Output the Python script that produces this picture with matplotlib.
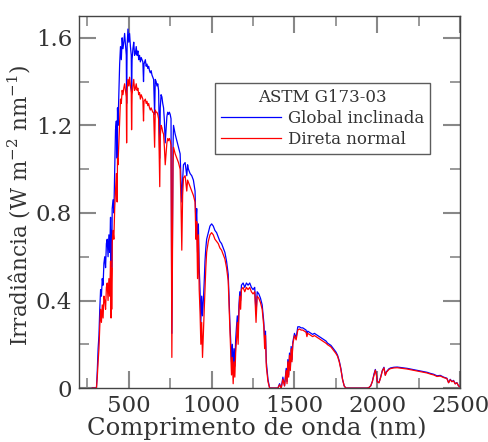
import matplotlib
matplotlib.use("Agg")
import matplotlib.pyplot as plt
from matplotlib.ticker import MultipleLocator, FuncFormatter

# wavelength grid (nm)
wavelength = [
    280, 300, 305, 310, 315, 320, 325, 330, 335, 340,
    345, 350, 355, 360, 365, 370, 375, 380, 385, 390,
    393, 396, 397, 400, 405, 410, 415, 420, 425, 430,
    432, 435, 440, 445, 450, 455, 460, 465, 470, 475,
    480, 485, 487, 490, 495, 500, 505, 510, 515, 517,
    520, 525, 530, 535, 540, 545, 550, 555, 560, 565,
    570, 575, 580, 585, 589, 592, 600, 605, 610, 615,
    620, 625, 630, 635, 640, 645, 650, 656, 660, 665,
    670, 675, 680, 687, 690, 695, 700, 705, 710, 715,
    720, 725, 730, 735, 740, 745, 750, 755, 760, 763,
    767, 770, 780, 790, 800, 810, 815, 820, 825, 830,
    840, 850, 855, 860, 870, 880, 890, 900, 905, 910,
    915, 920, 925, 930, 935, 940, 945, 950, 955, 960,
    965, 970, 980, 990, 1000, 1010, 1020, 1030, 1040, 1050,
    1060, 1070, 1080, 1090, 1100, 1105, 1110, 1115, 1120, 1125,
    1130, 1135, 1140, 1145, 1150, 1155, 1160, 1165, 1170, 1175,
    1180, 1190, 1200, 1210, 1220, 1230, 1240, 1250, 1260, 1268,
    1275, 1285, 1295, 1305, 1315, 1320, 1325, 1330, 1340, 1350,
    1400, 1410, 1420, 1430, 1440, 1450, 1455, 1460, 1465, 1470,
    1475, 1480, 1485, 1490, 1500, 1510, 1520, 1530, 1540, 1550,
    1560, 1570, 1575, 1580, 1590, 1600, 1610, 1620, 1630, 1640,
    1650, 1660, 1670, 1680, 1690, 1700, 1710, 1720, 1730, 1740,
    1750, 1760, 1770, 1780, 1790, 1800, 1810, 1940, 1950, 1960,
    1970, 1980, 1988, 1995, 2000, 2010, 2020, 2030, 2040, 2048,
    2055, 2070, 2080, 2100, 2120, 2140, 2160, 2180, 2200, 2220,
    2240, 2260, 2280, 2300, 2320, 2340, 2360, 2380, 2400, 2420,
    2430, 2440, 2450, 2460, 2470, 2480, 2490, 2500,
]

# global tilt irradiance (W m-2 nm-1)
global_tilt = [
    0, 0, 0, 0.08, 0.18, 0.24, 0.36, 0.45, 0.42, 0.50,
    0.47, 0.57, 0.60, 0.55, 0.66, 0.68, 0.60, 0.70, 0.62, 0.78,
    0.50, 0.72, 0.55, 0.82, 0.86, 0.80, 0.98, 1.18, 1.22, 1.05,
    1.28, 1.20, 1.35, 1.48, 1.56, 1.50, 1.60, 1.55, 1.58, 1.62,
    1.57, 1.52, 1.30, 1.56, 1.64, 1.58, 1.62, 1.56, 1.52, 1.35,
    1.50, 1.55, 1.58, 1.52, 1.53, 1.56, 1.52, 1.54, 1.50, 1.52,
    1.49, 1.51, 1.50, 1.49, 1.40, 1.48, 1.50, 1.47, 1.48, 1.46,
    1.47, 1.45, 1.44, 1.45, 1.43, 1.42, 1.41, 1.25, 1.41, 1.40,
    1.38, 1.39, 1.36, 1.05, 1.28, 1.34, 1.33, 1.30, 1.28, 1.22,
    1.12, 1.18, 1.24, 1.26, 1.25, 1.26, 1.25, 1.23, 0.25, 0.60,
    1.10, 1.20, 1.16, 1.13, 1.10, 1.07, 0.95, 0.85, 0.95, 1.02,
    1.03, 0.97, 1.02, 1.00, 0.98, 0.97, 0.95, 0.90, 0.75, 0.82,
    0.62, 0.75, 0.55, 0.45, 0.30, 0.42, 0.33, 0.40, 0.48, 0.58,
    0.64, 0.68, 0.71, 0.74, 0.75, 0.74, 0.72, 0.71, 0.69, 0.67,
    0.66, 0.64, 0.62, 0.58, 0.52, 0.42, 0.30, 0.22, 0.12, 0.20,
    0.08, 0.18, 0.10, 0.22, 0.28, 0.33, 0.25, 0.38, 0.44, 0.40,
    0.47, 0.48, 0.46, 0.48, 0.47, 0.48, 0.46, 0.45, 0.46, 0.34,
    0.44, 0.43, 0.41, 0.38, 0.30, 0.22, 0.26, 0.12, 0.04, 0,
    0, 0.02, 0, 0.05, 0.01, 0.09, 0.03, 0.13, 0.06, 0.16,
    0.09, 0.19, 0.13, 0.21, 0.25, 0.23, 0.28, 0.28, 0.275, 0.275,
    0.27, 0.265, 0.245, 0.26, 0.255, 0.25, 0.245, 0.25, 0.245, 0.24,
    0.235, 0.23, 0.225, 0.22, 0.215, 0.205, 0.20, 0.195, 0.185, 0.175,
    0.165, 0.15, 0.125, 0.09, 0.04, 0.01, 0, 0, 0.003, 0.01,
    0.03, 0.065, 0.085, 0.06, 0.03, 0.025, 0.05, 0.08, 0.095, 0.06,
    0.075, 0.088, 0.092, 0.095, 0.096, 0.094, 0.092, 0.09, 0.087, 0.084,
    0.081, 0.078, 0.075, 0.072, 0.067, 0.063, 0.056, 0.058, 0.05, 0.045,
    0.025, 0.04, 0.03, 0.035, 0.02, 0.025, 0.01, 0.005,
]

# direct normal irradiance (W m-2 nm-1)
direct_normal = [
    0, 0, 0, 0.05, 0.12, 0.18, 0.28, 0.36, 0.30, 0.38,
    0.32, 0.42, 0.40, 0.36, 0.46, 0.48, 0.40, 0.50, 0.42, 0.58,
    0.32, 0.55, 0.36, 0.66, 0.72, 0.68, 0.82, 0.90, 0.98, 0.85,
    1.05, 1.02, 1.12, 1.22, 1.32, 1.30, 1.36, 1.34, 1.37, 1.39,
    1.36, 1.33, 1.12, 1.36, 1.41, 1.38, 1.42, 1.38, 1.35, 1.18,
    1.34, 1.38, 1.41, 1.36, 1.37, 1.39, 1.36, 1.37, 1.34, 1.35,
    1.32, 1.34, 1.33, 1.32, 1.22, 1.31, 1.32, 1.30, 1.31, 1.29,
    1.30, 1.28, 1.27, 1.28, 1.27, 1.26, 1.26, 1.10, 1.27, 1.26,
    1.26, 1.25, 1.23, 0.92, 1.15, 1.20, 1.19, 1.17, 1.16, 1.10,
    1.02, 1.07, 1.12, 1.14, 1.13, 1.14, 1.13, 1.11, 0.14, 0.50,
    1.02, 1.10, 1.07, 1.05, 1.03, 1.00, 0.85, 0.63, 0.88, 0.96,
    0.97, 0.90, 0.95, 0.94, 0.92, 0.90, 0.88, 0.85, 0.68, 0.76,
    0.50, 0.70, 0.45, 0.35, 0.20, 0.30, 0.14, 0.25, 0.35, 0.45,
    0.55, 0.62, 0.67, 0.70, 0.71, 0.70, 0.68, 0.67, 0.66, 0.64,
    0.63, 0.61, 0.59, 0.55, 0.49, 0.38, 0.26, 0.15, 0.06, 0.14,
    0.02, 0.12, 0.05, 0.16, 0.22, 0.30, 0.20, 0.35, 0.42, 0.36,
    0.45, 0.46, 0.44, 0.46, 0.45, 0.46, 0.44, 0.43, 0.44, 0.30,
    0.42, 0.41, 0.39, 0.36, 0.28, 0.18, 0.24, 0.10, 0.03, 0,
    0, 0.015, 0, 0.04, 0.01, 0.08, 0.02, 0.12, 0.05, 0.15,
    0.08, 0.18, 0.12, 0.20, 0.24, 0.22, 0.265, 0.27, 0.265, 0.265,
    0.26, 0.255, 0.235, 0.25, 0.245, 0.24, 0.235, 0.24, 0.235, 0.23,
    0.225, 0.22, 0.215, 0.21, 0.205, 0.198, 0.193, 0.188, 0.178, 0.168,
    0.158, 0.145, 0.12, 0.085, 0.04, 0.01, 0, 0, 0.003, 0.01,
    0.03, 0.06, 0.082, 0.058, 0.028, 0.024, 0.048, 0.078, 0.092, 0.058,
    0.072, 0.085, 0.089, 0.092, 0.093, 0.091, 0.089, 0.087, 0.084, 0.081,
    0.078, 0.075, 0.072, 0.069, 0.064, 0.060, 0.053, 0.055, 0.048, 0.043,
    0.024, 0.038, 0.029, 0.033, 0.019, 0.024, 0.01, 0.005,
]

series_labels = ["Global inclinada", "Direta normal"]
legend_title = "ASTM G173-03"

plt.rcParams['font.family'] = ['DejaVu Serif']
plt.rcParams['mathtext.fontset'] = 'dejavuserif'
text_color = '#333333'

fig = plt.figure(figsize=(4.88, 4.42), dpi=100)
ax = fig.add_axes([0.162, 0.122, 0.781, 0.842])

ax.plot(wavelength, global_tilt, color='blue', lw=0.9, label=series_labels[0])
ax.plot(wavelength, direct_normal, color='red', lw=0.9, label=series_labels[1])

ax.set_xlim(200, 2500)
ax.set_ylim(0, 1.7)
ax.xaxis.set_major_locator(MultipleLocator(500))
ax.xaxis.set_minor_locator(MultipleLocator(250))
ax.yaxis.set_major_locator(MultipleLocator(0.4))
ax.yaxis.set_minor_locator(MultipleLocator(0.2))
ax.yaxis.set_major_formatter(FuncFormatter(lambda v, p: '0' if abs(v) < 1e-9 else '%.1f' % v))

ax.tick_params(which='both', direction='in', top=True, right=True, color='#888888')
ax.tick_params(which='major', length=12, width=1.5, labelsize=16.5, labelcolor=text_color, pad=5)
ax.tick_params(which='minor', length=7, width=1.2)
for s in ax.spines.values():
    s.set_color('#444444')
    s.set_linewidth(1.0)

ax.set_xlabel('Comprimento de onda (nm)', fontsize=17.5, color=text_color, labelpad=0)
ax.xaxis.set_label_coords(0.465, -0.075, transform=ax.transAxes)
ax.xaxis.label.set_va('top')
ax.set_ylabel(r'Irradiância (W m$^{-2}$ nm$^{-1}$)', fontsize=15.5, color=text_color)
ax.yaxis.set_label_coords(-0.12, 0.49, transform=ax.transAxes)

leg = ax.legend(title=legend_title, loc='upper left', bbox_to_anchor=(0.357, 0.82),
                fontsize=12, title_fontsize=12, frameon=True, fancybox=False,
                handlelength=3.6, borderpad=0.35, labelspacing=0.25, handletextpad=0.4,
                borderaxespad=0)
leg.get_frame().set_edgecolor('#333333')
leg.get_frame().set_linewidth(1.0)
for t in leg.get_texts():
    t.set_color(text_color)
leg.get_title().set_color(text_color)

fig.savefig('out.png', dpi=100)
